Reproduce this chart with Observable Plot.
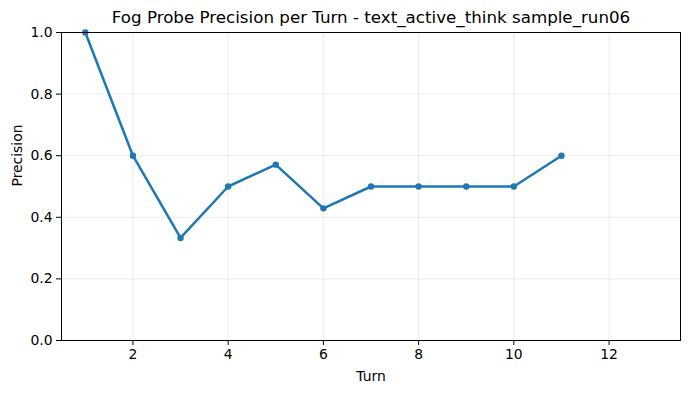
<!DOCTYPE html>
<html>
<head>
<meta charset="utf-8">
<script src="https://cdn.jsdelivr.net/npm/d3@7"></script>
<script src="https://cdn.jsdelivr.net/npm/@observablehq/plot@0.6"></script>
<style>
  html, body { margin: 0; padding: 0; background: #fff; }
  svg { display: block; }
</style>
</head>
<body>
<div id="chart"></div>
<script>
const turns = [1, 2, 3, 4, 5, 6, 7, 8, 9, 10, 11];
const precision = [1.0, 0.6, 0.333, 0.5, 0.571, 0.429, 0.5, 0.5, 0.5, 0.5, 0.6];
const xTicks = [2, 4, 6, 8, 10, 12];
const yTicks = [0, 0.2, 0.4, 0.6, 0.8, 1.0];
const title = "Fog Probe Precision per Turn - text_active_think sample_run06";

const data = turns.map((t, i) => ({turn: t, precision: precision[i]}));

const chart = Plot.plot({
  width: 691,
  height: 393,
  marginLeft: 61,
  marginRight: 11,
  marginTop: 32,
  marginBottom: 53,
  style: {fontFamily: "DejaVu Sans", fontSize: "13.9px", color: "#000", background: "#fff"},
  x: {domain: [0.5, 13.5], ticks: xTicks, tickSize: 5, tickPadding: 4, tickFormat: d => String(d), label: null},
  y: {domain: [0, 1], ticks: yTicks, tickSize: 5, tickPadding: 4, tickFormat: d => d.toFixed(1), label: null},
  marks: [
    Plot.gridX(xTicks, {stroke: "#b0b0b0", strokeOpacity: 0.3, strokeWidth: 0.8}),
    Plot.gridY(yTicks, {stroke: "#b0b0b0", strokeOpacity: 0.3, strokeWidth: 0.8}),
    Plot.line(data, {x: "turn", y: "precision", stroke: "#1f77b4", strokeWidth: 2.5}),
    Plot.dot(data, {x: "turn", y: "precision", fill: "#1f77b4", r: 3.2}),
    Plot.frame({stroke: "#000", strokeWidth: 1}),
    Plot.axisX({ticks: xTicks, tickSize: 5, tickPadding: 4, tickFormat: d => String(d), label: null, fontSize: 13.9}),
    Plot.axisY({ticks: yTicks, tickSize: 5, tickPadding: 4, tickFormat: d => d.toFixed(1), label: null, fontSize: 13.9}),
    Plot.text([title], {frameAnchor: "top", dy: -15, text: d => d, fontSize: 16.7, lineAnchor: "middle"}),
    Plot.text(["Turn"], {frameAnchor: "bottom", dy: 36, text: d => d, fontSize: 13.9, lineAnchor: "middle"}),
    Plot.text(["Precision"], {frameAnchor: "left", dx: -44, rotate: -90, text: d => d, fontSize: 13.9, lineAnchor: "middle"})
  ]
});
document.getElementById("chart").appendChild(chart);
</script>
</body>
</html>
